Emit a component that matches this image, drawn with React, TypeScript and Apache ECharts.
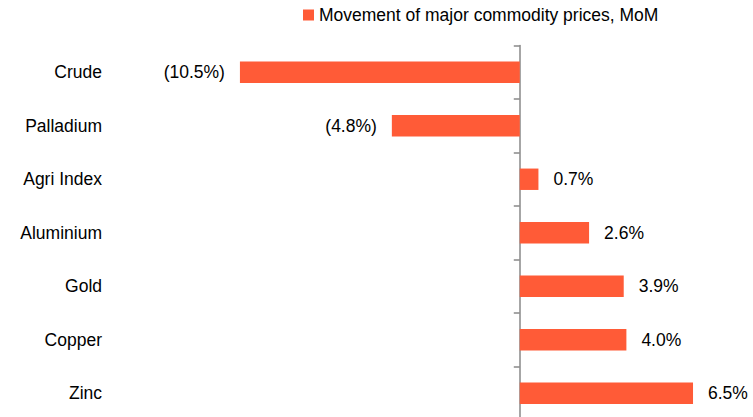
import React, { useEffect, useRef } from "react";
import * as echarts from "echarts";

const categories = ["Crude", "Palladium", "Agri Index", "Aluminium", "Gold", "Copper", "Zinc"];
const values = [-10.5, -4.8, 0.7, 2.6, 3.9, 4.0, 6.5];
const seriesName = "Movement of major commodity prices, MoM";

const BAR_COLOR = "#FF5B37";
const AXIS_COLOR = "#888888";
const FONT = "Arial, 'Liberation Sans', sans-serif";

export default function App() {
  const ref = useRef<HTMLDivElement>(null);
  useEffect(() => {
    if (!ref.current) return;
    const chart = echarts.init(ref.current, undefined, { renderer: "svg" });
    const data = values.map((v) => ({
      value: v,
      label: {
        position: v < 0 ? "left" : "right",
      },
    }));
    chart.setOption({
      animation: false,
      textStyle: { fontFamily: FONT },
      legend: {
        left: 303,
        top: 1,
        padding: [5, 0, 5, 0],
        itemWidth: 11,
        itemHeight: 11,
        icon: "rect",
        textStyle: { fontSize: 17.5, color: "#000", fontFamily: FONT },
        data: [seriesName],
      },
      grid: { left: 120, right: 20, top: 45.5, height: 374.5, containLabel: false },
      xAxis: {
        type: "value",
        min: -15,
        max: 8,
        show: false,
      },
      yAxis: [
        {
          type: "category",
          inverse: true,
          data: categories,
          axisLine: { show: true, onZero: true, lineStyle: { color: AXIS_COLOR, width: 1.5 } },
          axisTick: { show: true, length: 6, lineStyle: { color: AXIS_COLOR, width: 1.5 } },
          axisLabel: { show: false },
          splitLine: { show: false },
        },
        {
          type: "category",
          inverse: true,
          position: "left",
          data: categories,
          axisLine: { show: false, onZero: false },
          axisTick: { show: false },
          axisLabel: { show: true, fontSize: 17.5, color: "#000", margin: 18, fontFamily: FONT },
          splitLine: { show: false },
        },
      ],
      series: [
        {
          name: seriesName,
          type: "bar",
          yAxisIndex: 0,
          barWidth: "40%",
          itemStyle: { color: BAR_COLOR },
          label: {
            show: true,
            distance: 15,
            fontSize: 17.5,
            color: "#000",
            fontFamily: FONT,
            formatter: (p: any) =>
              p.value < 0 ? `(${Math.abs(p.value).toFixed(1)}%)` : `${p.value.toFixed(1)}%`,
          },
          data,
        },
      ],
    });
    return () => chart.dispose();
  }, []);
  return (
    <div
      ref={ref}
      style={{ position: "fixed", left: 0, top: 0, width: 753, height: 430, background: "#fff" }}
    />
  );
}
